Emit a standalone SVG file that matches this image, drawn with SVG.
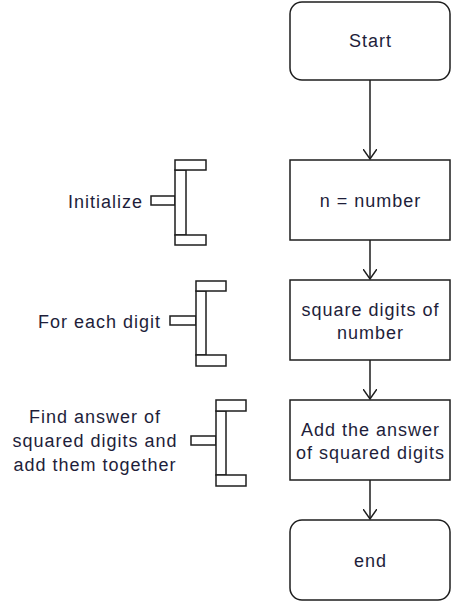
<svg xmlns="http://www.w3.org/2000/svg" width="462" height="612" viewBox="0 0 462 612">
<style>
.box{fill:#fff;stroke:#1e1e1e;stroke-width:1.5}
.br{fill:#fff;stroke:#1e1e1e;stroke-width:1.5}
.t{font-family:"Liberation Sans",Arial,sans-serif;font-size:18px;letter-spacing:1px;fill:#1e1e3a;text-anchor:middle;dominant-baseline:central}
.c{fill:none;stroke:#1e1e1e;stroke-width:1.5}
</style>
<defs>
<marker id="ah" markerWidth="14" markerHeight="14" refX="10" refY="7" orient="auto" markerUnits="userSpaceOnUse">
<path d="M0,0 L10,7 L0,14" fill="none" stroke="#1e1e1e" stroke-width="1.5"/>
</marker>
</defs>
<rect width="462" height="612" fill="#fff"/>
<g id="connectors">
<line class="c" x1="370" y1="80" x2="370" y2="159" marker-end="url(#ah)"/>
<line class="c" x1="370" y1="240" x2="370" y2="279" marker-end="url(#ah)"/>
<line class="c" x1="370" y1="360" x2="370" y2="399" marker-end="url(#ah)"/>
<line class="c" x1="370" y1="480" x2="370" y2="519" marker-end="url(#ah)"/>
</g>
<g id="start">
<rect class="box" x="290" y="2" width="160" height="78" rx="12"/>
<text class="t" x="370.5" y="41">Start</text>
</g>
<g id="n-number">
<rect class="box" x="290" y="160" width="160" height="80"/>
<text class="t" x="370.5" y="201">n = number</text>
</g>
<g id="square-digits">
<rect class="box" x="290" y="280" width="160" height="80"/>
<text class="t" x="370.5" y="310">square digits of</text>
<text class="t" x="370.5" y="333">number</text>
</g>
<g id="add-answer">
<rect class="box" x="290" y="400" width="160" height="80"/>
<text class="t" x="370.5" y="430">Add the answer</text>
<text class="t" x="370.5" y="453">of squared digits</text>
</g>
<g id="end">
<rect class="box" x="290" y="520" width="160" height="80" rx="12"/>
<text class="t" x="370.5" y="561">end</text>
</g>
<g id="initialize">
<rect class="br" x="151" y="196" width="24" height="9"/>
<rect class="br" x="175" y="170" width="11" height="65"/>
<rect class="br" x="175" y="160" width="31" height="10"/>
<rect class="br" x="175" y="235" width="31" height="10"/>
<text class="t" x="143" y="202" style="text-anchor:end">Initialize</text>
</g>
<g id="for-each-digit">
<rect class="br" x="170" y="316" width="26" height="9"/>
<rect class="br" x="196" y="291" width="10" height="64"/>
<rect class="br" x="196" y="281" width="30" height="10"/>
<rect class="br" x="196" y="355" width="30" height="11"/>
<text class="t" x="161" y="322" style="text-anchor:end">For each digit</text>
</g>
<g id="find-answer">
<rect class="br" x="191" y="436" width="25" height="9"/>
<rect class="br" x="216" y="411" width="10" height="64"/>
<rect class="br" x="216" y="400" width="30" height="11"/>
<rect class="br" x="216" y="475" width="30" height="11"/>
<text class="t" x="95" y="417">Find answer of</text>
<text class="t" x="95" y="441">squared digits and</text>
<text class="t" x="95" y="465">add them together</text>
</g>
</svg>
